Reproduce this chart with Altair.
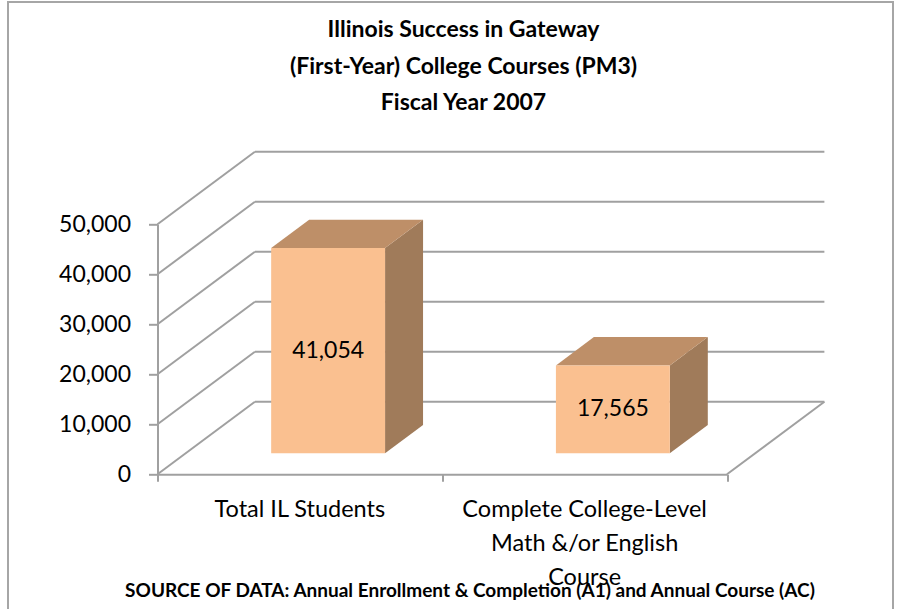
import altair as alt
import pandas as pd

# ---- chart content -------------------------------------------------------
categories = ["Total IL Students", "Complete College-Level\nMath &/or English\nCourse"]
values = [41054, 17565]
tick_values = [0, 10000, 20000, 30000, 40000, 50000]
title_lines = ["Illinois Success in Gateway",
               "(First-Year) College Courses (PM3)",
               "Fiscal Year 2007"]
source_note = "SOURCE OF DATA: Annual Enrollment & Completion (A1) and Annual Course (AC)"

# ---- oblique 3-D projection ---------------------------------------------
DEPTH_X = 0.342    # back wall offset, in category units
DEPTH_Y = 14520    # back wall offset, in value units
BAR_HALF = 0.2     # half bar width, in category units
BAR_D0, BAR_D1 = 0.29, 0.68   # bar front / back as fraction of the depth

GRID = "#A0A0A0"
FRONT, TOP, SIDE = "#FAC090", "#BE8F68", "#A07B5A"
FONT = "Lato"

x_scale = alt.Scale(domain=[0, 2], nice=False, zero=False)
y_scale = alt.Scale(domain=[0, 50000], nice=False, zero=False)

# wall / floor lines
wall_rows = []
for v in tick_values:
    wall_rows += [dict(line=f"back{v}", k=0, x=DEPTH_X, y=v + DEPTH_Y),
                  dict(line=f"back{v}", k=1, x=2 + DEPTH_X, y=v + DEPTH_Y),
                  dict(line=f"side{v}", k=0, x=0, y=v),
                  dict(line=f"side{v}", k=1, x=DEPTH_X, y=v + DEPTH_Y)]
wall_rows += [dict(line="floor", k=0, x=2, y=0),
              dict(line="floor", k=1, x=2 + DEPTH_X, y=DEPTH_Y)]
walls = pd.DataFrame(wall_rows)

# bar faces
front_rows, side_rows, top_rows, label_rows = [], [], [], []
for i, (cat, v) in enumerate(zip(categories, values)):
    c = i + 0.5
    xl, xr = c - BAR_HALF, c + BAR_HALF
    ox0, oy0 = BAR_D0 * DEPTH_X, BAR_D0 * DEPTH_Y
    ox1, oy1 = BAR_D1 * DEPTH_X, BAR_D1 * DEPTH_Y
    front_rows.append(dict(bar=i, x=xl + ox0, x2=xr + ox0, y=oy0, y2=v + oy0))
    side_rows += [dict(bar=i, x=xr + ox0, y=oy0, y2=v + oy0),
                  dict(bar=i, x=xr + ox1, y=oy1, y2=v + oy1)]
    top_rows += [dict(bar=i, y=v + oy0, x=xl + ox0, x2=xr + ox0),
                 dict(bar=i, y=v + oy1, x=xl + ox1, x2=xr + ox1)]
    label_rows.append(dict(x=c + ox0, y=oy0 + v / 2, value=v))

front = pd.DataFrame(front_rows)
side = pd.DataFrame(side_rows)
top = pd.DataFrame(top_rows)
bar_labels = pd.DataFrame(label_rows)
cat_labels = pd.DataFrame({"x": [i + 0.5 for i in range(len(categories))],
                           "label": categories})

no_axis = dict(axis=None)

walls_layer = alt.Chart(walls).mark_line(color=GRID, strokeWidth=2).encode(
    x=alt.X("x:Q", scale=x_scale,
            axis=alt.Axis(values=[0, 1, 2], labels=False, title=None, grid=False,
                          domainColor=GRID, domainWidth=2, tickColor=GRID,
                          tickWidth=2, tickSize=7)),
    y=alt.Y("y:Q", scale=y_scale,
            axis=alt.Axis(values=tick_values, title=None, grid=False,
                          labelExpr="format(datum.value, ',')",
                          domainColor=GRID, domainWidth=2, tickColor=GRID,
                          tickWidth=2, tickSize=9, labelPadding=18,
                          labelFont=FONT, labelFontSize=23, labelColor="#000000")),
    detail="line:N",
    order="k:Q",
)

side_layer = alt.Chart(side).mark_area(color=SIDE, orient="vertical").encode(
    x=alt.X("x:Q", scale=x_scale, **no_axis),
    y=alt.Y("y:Q", scale=y_scale, **no_axis),
    y2="y2:Q",
    detail="bar:N",
)

top_layer = alt.Chart(top).mark_area(color=TOP, orient="horizontal").encode(
    y=alt.Y("y:Q", scale=y_scale, **no_axis),
    x=alt.X("x:Q", scale=x_scale, **no_axis),
    x2="x2:Q",
    detail="bar:N",
)

front_layer = alt.Chart(front).mark_rect(color=FRONT).encode(
    x=alt.X("x:Q", scale=x_scale, **no_axis),
    x2="x2:Q",
    y=alt.Y("y:Q", scale=y_scale, **no_axis),
    y2="y2:Q",
)

value_text = alt.Chart(bar_labels).mark_text(
    font=FONT, fontSize=23, color="#000000", baseline="middle"
).encode(
    x=alt.X("x:Q", scale=x_scale, **no_axis),
    y=alt.Y("y:Q", scale=y_scale, **no_axis),
    text=alt.Text("value:Q", format=","),
)

cat_text = alt.Chart(cat_labels).mark_text(
    font=FONT, fontSize=23.5, color="#000000", baseline="alphabetic",
    lineBreak="\n", lineHeight=34,
).encode(
    x=alt.X("x:Q", scale=x_scale, **no_axis),
    y=alt.value(292.7),
    text="label:N",
)

title_text = alt.Chart(pd.DataFrame({"t": ["\n".join(title_lines)]})).mark_text(
    font=FONT, fontSize=23, fontWeight="bold", color="#000000",
    baseline="alphabetic", lineBreak="\n", lineHeight=36.5,
).encode(x=alt.value(306), y=alt.value(-187.3), text="t:N")

source_text = alt.Chart(pd.DataFrame({"t": [source_note]})).mark_text(
    font=FONT, fontSize=19, fontWeight="bold", color="#000000",
    baseline="alphabetic",
).encode(x=alt.value(312.5), y=alt.value(372.7), text="t:N")

frame = alt.Chart(pd.DataFrame({"a": [0]})).mark_rect(
    filled=False, stroke="#A6A6A6", strokeWidth=2
).encode(x=alt.value(-149.5), x2=alt.value(735.5),
         y=alt.value(-222.3), y2=alt.value(420))

chart = alt.layer(
    frame, walls_layer, side_layer, top_layer, front_layer,
    value_text, cat_text, title_text, source_text,
).resolve_axis(
    x="independent", y="independent"
).properties(
    width=569.5, height=250,
    autosize=alt.AutoSizeParams(type="none"),
    padding={"left": 157.5, "top": 224.3, "right": 177, "bottom": 134.7},
    background="#FFFFFF",
).configure_view(stroke=None)

chart.save("out.html", embed_options={"renderer": "svg", "actions": False})
